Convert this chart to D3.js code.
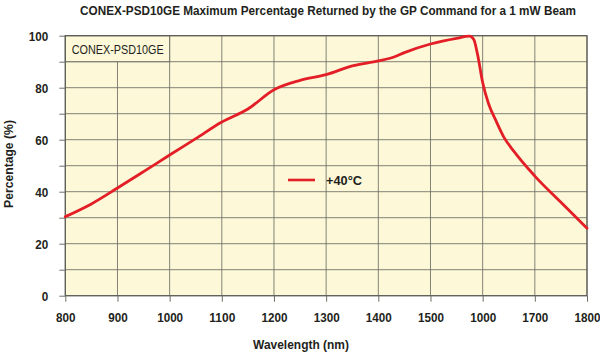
<!DOCTYPE html>
<html>
<head>
<meta charset="utf-8">
<script src="https://cdn.jsdelivr.net/npm/d3@7"></script>
<style>
  html, body { margin: 0; padding: 0; background: #ffffff; }
  svg { display: block; }
  text { font-family: "Liberation Sans", Arial, sans-serif; font-weight: bold; fill: #231f20; }
</style>
</head>
<body>
<svg id="chart" width="600" height="355"></svg>
<script>
// ---- data ----
const wavelengths = [800, 850, 900, 950, 1000, 1050, 1100, 1150, 1200, 1250, 1300, 1350, 1400, 1430, 1450, 1500, 1550, 1575, 1583, 1590, 1600, 1611, 1625, 1640, 1660, 1700, 1750, 1800];
const percent40C  = [30.4, 35.3, 41.4, 47.7, 54.1, 60.4, 66.8, 71.8, 79.2, 82.8, 85.0, 88.4, 90.3, 91.8, 93.5, 96.8, 99.0, 99.8, 98.5, 93.0, 82.0, 74.0, 67.5, 61.2, 55.5, 46.0, 35.9, 25.9];
const xTickValues = [800, 900, 1000, 1100, 1200, 1300, 1400, 1500, 1600, 1700, 1800];
const xTickLabels = ["800", "900", "1000", "1100", "1200", "1300", "1400", "1500", "1000", "1700", "1800"];
const yTickValues = [0, 10, 20, 30, 40, 50, 60, 70, 80, 90, 100];
const yTickLabels = ["0", "", "20", "", "40", "", "60", "", "80", "", "100"];
const seriesName = "+40°C";
const boxLabel = "CONEX-PSD10GE";
const title = "CONEX-PSD10GE Maximum Percentage Returned by the GP Command for a 1 mW Beam";
const xTitle = "Wavelength (nm)";
const yTitle = "Percentage (%)";

// ---- layout ----
const svg = d3.select("#chart");
const L = 65.3, R = 587, T = 35.7, B = 295.7;
const x = d3.scaleLinear().domain([800, 1800]).range([L, R]);
const y = d3.scaleLinear().domain([0, 100]).range([B, T]);
const gridColor = "#6f6f66";
const bg = "#fcf8d8";
const red = "#e31e26";
const digitW = 6.5; // condensed digit width

// horizontally condense a text (placed at px,py, optional extra rotation) to a target width
function condensedText(parent, str, px, py, size, width, anchor, rotate, weight) {
  const g = parent.append("g");
  const t = g.append("text").attr("font-size", size).attr("text-anchor", anchor || "start").text(str);
  if (weight) t.style("font-weight", weight);
  const natural = t.node().getComputedTextLength();
  const s = width / natural;
  g.attr("transform", `translate(${px},${py})` + (rotate ? ` rotate(${rotate})` : "") + ` scale(${s},1)`);
  return t;
}

// plot background
svg.append("rect").attr("x", L).attr("y", T).attr("width", R - L).attr("height", B - T)
  .attr("fill", bg);

// grid
const grid = svg.append("g").attr("stroke", gridColor).attr("stroke-width", 1).attr("stroke-opacity", 0.85);
grid.selectAll("line.h").data(yTickValues).join("line").attr("class", "h")
  .attr("x1", L).attr("x2", R).attr("y1", d => y(d)).attr("y2", d => y(d));
grid.selectAll("line.v").data(xTickValues).join("line").attr("class", "v")
  .attr("x1", d => x(d)).attr("x2", d => x(d)).attr("y1", T).attr("y2", B);

// label box (covers grid in top-left cells)
svg.append("rect").attr("x", x(800)).attr("y", y(100)).attr("width", x(1000) - x(800)).attr("height", y(90) - y(100))
  .attr("fill", bg).attr("stroke", gridColor).attr("stroke-width", 1);
condensedText(svg, boxLabel, x(800) + 6.5, y(95) + 4.8, 12.8, 92, "start", 0, "normal");

// frame
svg.append("rect").attr("x", L).attr("y", T).attr("width", R - L).attr("height", B - T)
  .attr("fill", "none").attr("stroke", "#5c5c58").attr("stroke-width", 1.2);

// axes (ticks via d3 axes; labels condensed with a horizontal scale)
const xAxis = d3.axisBottom(x).tickValues(xTickValues).tickSize(6).tickPadding(11)
  .tickFormat((d, i) => xTickLabels[i]);
const gx = svg.append("g").attr("transform", `translate(0,${B})`).call(xAxis);
gx.attr("font-family", null).attr("font-size", null);
gx.select(".domain").remove();
gx.selectAll(".tick line").attr("stroke", gridColor);
gx.selectAll(".tick text").attr("font-size", 13.5).attr("fill", "#231f20")
  .each(function(d, i) {
    const n = this.getComputedTextLength();
    const s = (xTickLabels[i].length * digitW) / n;
    const yy = +this.getAttribute("y");
    d3.select(this).attr("y", 0).attr("transform", `translate(0,${yy}) scale(${s},1)`);
  });

const yAxis = d3.axisLeft(y).tickValues(yTickValues).tickSize(6).tickPadding(11)
  .tickFormat((d, i) => yTickLabels[i]);
const gy = svg.append("g").attr("transform", `translate(${L},0)`).call(yAxis);
gy.attr("font-family", null).attr("font-size", null);
gy.select(".domain").remove();
gy.selectAll(".tick line").attr("stroke", gridColor);
gy.selectAll(".tick text").attr("font-size", 13.5).attr("fill", "#231f20")
  .each(function(d, i) {
    if (!yTickLabels[i]) return;
    const n = this.getComputedTextLength();
    const s = (yTickLabels[i].length * digitW) / n;
    const xx = +this.getAttribute("x");
    d3.select(this).attr("x", 0).attr("transform", `translate(${xx},0) scale(${s},1)`);
  });

// line
const line = d3.line().x((d, i) => x(wavelengths[i])).y(d => y(d)).curve(d3.curveMonotoneX);
svg.append("path").datum(percent40C).attr("d", line)
  .attr("fill", "none").attr("stroke", red).attr("stroke-width", 2.8)
  .attr("stroke-linejoin", "round").attr("stroke-linecap", "round");

// legend
svg.append("line").attr("x1", 288).attr("x2", 315).attr("y1", 180).attr("y2", 180)
  .attr("stroke", red).attr("stroke-width", 2.6);
condensedText(svg, seriesName, 326, 185, 13, 36, "start");

// titles
condensedText(svg, title, 328, 15, 12.5, 496, "middle");
condensedText(svg, xTitle, 301, 349, 13, 96, "middle");
condensedText(svg, yTitle, 12.5, 164, 13, 88, "middle", -90);
</script>
</body>
</html>
